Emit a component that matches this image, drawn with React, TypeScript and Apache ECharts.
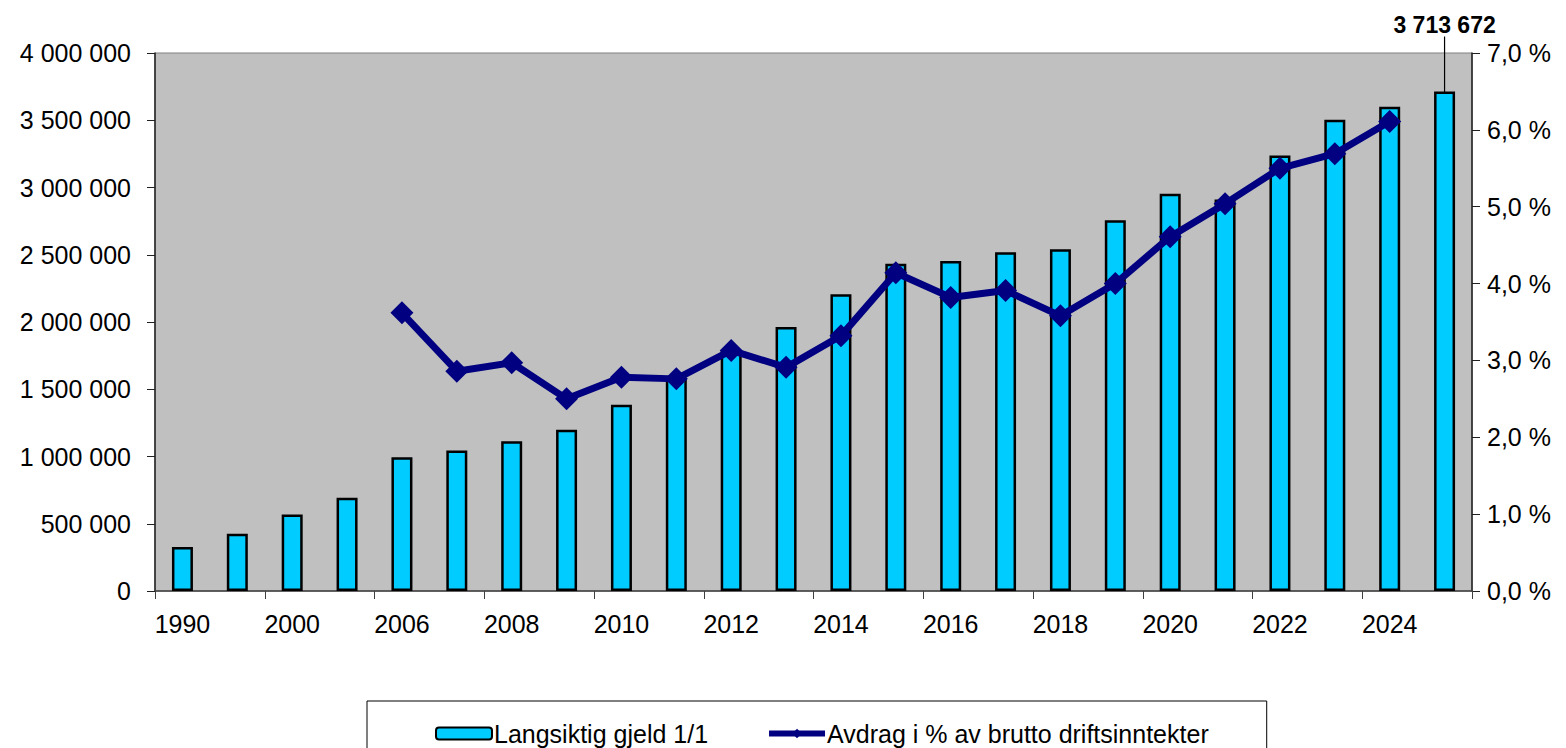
import React, { useEffect, useRef } from "react";
import * as echarts from "echarts";

const years = [
  "1990", "1995", "2000", "2005", "2006", "2007", "2008", "2009", "2010", "2011", "2012", "2013",
  "2014", "2015", "2016", "2017", "2018", "2019", "2020", "2021", "2022", "2023", "2024", "2025",
];

const gjeld = [
  327000, 426000, 569000, 693000, 995000, 1045000, 1114000, 1198000, 1384000, 1577000, 1790000, 1963000,
  2206000, 2434000, 2454000, 2518000, 2540000, 2756000, 2954000, 2910000, 3238000, 3504000, 3600000, 3713672,
];

const avdrag: (number | null)[] = [
  null, null, null, null, 3.62, 2.86, 2.97, 2.5, 2.78, 2.76, 3.13, 2.91,
  3.32, 4.14, 3.82, 3.91, 3.58, 4.0, 4.61, 5.04, 5.5, 5.69, 6.11, null,
];

const seriesNames = ["Langsiktig gjeld 1/1", "Avdrag i % av brutto driftsinntekter"];

const FONT = "Arial, 'Liberation Sans', sans-serif";
const FS = 25;

const fmtThousands = (v: number) =>
  String(Math.round(v)).replace(/\B(?=(\d{3})+(?!\d))/g, " ");

export default function App() {
  const ref = useRef<HTMLDivElement>(null);

  useEffect(() => {
    if (!ref.current) return;
    const chart = echarts.init(ref.current, null, { renderer: "svg" });
    const lastIdx = gjeld.length - 1;
    chart.setOption({
      animation: false,
      textStyle: { fontFamily: FONT },
      grid: {
        left: 155,
        right: 94,
        top: 53,
        bottom: 157,
        show: true,
        backgroundColor: "#C0C0C0",
        borderColor: "#808080",
        borderWidth: 1,
      },
      legend: {
        left: 367,
        top: 701,
        padding: [20, 58, 40, 68],
        itemGap: 58,
        itemWidth: 56,
        itemHeight: 12,
        borderColor: "#000",
        borderWidth: 1,
        textStyle: { fontFamily: FONT, fontSize: FS, color: "#000", padding: [0, 0, 0, -3] },
        lineStyle: { width: 6 },
        data: seriesNames,
      },
      xAxis: {
        type: "category",
        data: years,
        boundaryGap: true,
        axisLine: { lineStyle: { color: "#404040", width: 1.5 } },
        axisTick: { show: true, length: 8, lineStyle: { color: "#404040" } },
        axisLabel: {
          interval: 1,
          fontSize: FS,
          color: "#000",
          margin: 20,
          fontFamily: FONT,
        },
        splitLine: { show: false },
      },
      yAxis: [
        {
          type: "value",
          min: 0,
          max: 4000000,
          interval: 500000,
          axisLine: { show: true, lineStyle: { color: "#202020", width: 1.5 } },
          axisTick: { show: true, length: 8, lineStyle: { color: "#202020" } },
          axisLabel: {
            fontSize: FS,
            color: "#000",
            margin: 24,
            fontFamily: FONT,
            formatter: (v: number) => fmtThousands(v),
          },
          splitLine: { show: false },
        },
        {
          type: "value",
          min: 0,
          max: 7,
          interval: 1,
          position: "right",
          axisLine: { show: true, lineStyle: { color: "#202020", width: 1.5 } },
          axisTick: { show: true, length: 8, lineStyle: { color: "#202020" } },
          axisLabel: {
            fontSize: FS,
            color: "#000",
            margin: 15,
            fontFamily: FONT,
            formatter: (v: number) => v.toFixed(1).replace(".", ",") + " %",
          },
          splitLine: { show: false },
        },
      ],
      series: [
        {
          name: seriesNames[0],
          type: "bar",
          yAxisIndex: 0,
          barWidth: 21,
          itemStyle: { color: "#00CCFF", borderColor: "#000", borderWidth: 2.5 },
          labelLayout: { dy: -50 },
          data: gjeld.map((v, i) =>
            i === lastIdx
              ? {
                  value: v,
                  label: {
                    show: true,
                    position: "top",
                    distance: 5,
                    formatter: () => fmtThousands(v),
                    fontSize: 23,
                    fontWeight: "bold",
                    color: "#000",
                    fontFamily: FONT,
                  },
                  labelLine: { show: true, lineStyle: { color: "#000", width: 1.2 } },
                }
              : v
          ),
        },
        {
          name: seriesNames[1],
          type: "line",
          yAxisIndex: 1,
          data: avdrag,
          connectNulls: false,
          symbol: "diamond",
          symbolSize: 23,
          lineStyle: { color: "#000080", width: 7 },
          itemStyle: { color: "#000080" },
          z: 5,
        },
      ],
    });
    return () => chart.dispose();
  }, []);

  return (
    <div
      ref={ref}
      style={{ position: "fixed", left: 0, top: 0, width: 1566, height: 748, background: "#fff" }}
    />
  );
}
